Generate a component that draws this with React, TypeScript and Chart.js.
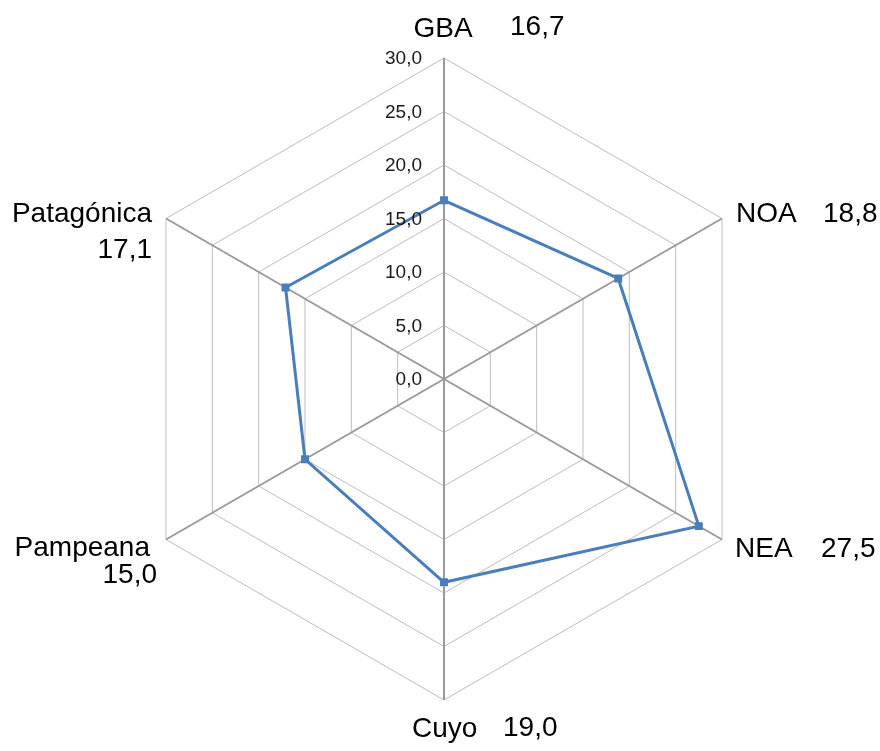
import React, { useEffect, useRef } from "react";
import { Chart, registerables } from "chart.js";

Chart.register(...registerables);

const categories = ["GBA", "NOA", "NEA", "Cuyo", "Pampeana", "Patagónica"];
const values = [16.7, 18.8, 27.5, 19.0, 15.0, 17.1];
const tickValues = [0, 5, 10, 15, 20, 25, 30];

// label offsets relative to each outer vertex: [nameDx, nameDy, nameAlign, valueDx, valueDy, valueAlign]
const labelLayout: [number, number, CanvasTextAlign, number, number, CanvasTextAlign][] = [
  [-1, -21, "center", 66, -23, "left"],
  [14, 3, "left", 101, 3, "left"],
  [13, 17, "left", 99, 17, "left"],
  [-32, 37, "left", 59, 36, "left"],
  [-16, 16, "right", -9, 43, "right"],
  [-14, 3, "right", -14, 39, "right"],
];

const fmt = (v: number) => v.toFixed(1).replace(".", ",");

const labelPlugin = {
  id: "customLabels",
  afterDraw(chart: any) {
    const scale = chart.scales.r;
    const ctx = chart.ctx;
    ctx.save();
    // tick labels
    ctx.font = "19px 'Liberation Sans', Arial, sans-serif";
    ctx.fillStyle = "#1a1a1a";
    ctx.textAlign = "right";
    ctx.textBaseline = "middle";
    tickValues.forEach((t) => {
      const d = scale.getDistanceFromCenterForValue(t);
      ctx.fillText(fmt(t), scale.xCenter - 22, scale.yCenter - d + 1);
    });
    // point labels + values
    ctx.font = "28px 'Liberation Sans', Arial, sans-serif";
    ctx.fillStyle = "#000";
    ctx.textBaseline = "alphabetic";
    categories.forEach((name, i) => {
      const p = scale.getPointPosition(i, scale.drawingArea);
      const [ndx, ndy, na, vdx, vdy, va] = labelLayout[i];
      ctx.textAlign = na;
      ctx.fillText(name, p.x + ndx, p.y + ndy);
      ctx.textAlign = va;
      ctx.fillText(fmt(values[i]), p.x + vdx, p.y + vdy);
    });
    ctx.restore();
  },
};

export default function App() {
  const ref = useRef<HTMLCanvasElement>(null);
  useEffect(() => {
    document.body.style.margin = "0";
    const chart = new Chart(ref.current!, {
      type: "radar",
      data: {
        labels: categories,
        datasets: [
          {
            data: values,
            borderColor: "#4A7EBB",
            backgroundColor: "#4A7EBB",
            borderWidth: 3,
            pointStyle: "rect",
            pointRadius: 3.5,
            pointBackgroundColor: "#4A7EBB",
            pointBorderColor: "#4A7EBB",
            fill: false,
            tension: 0,
          },
        ],
      },
      options: {
        animation: false,
        responsive: false,
        layout: { padding: { top: 58, bottom: 50, left: 100, right: 92 } },
        plugins: { legend: { display: false }, tooltip: { enabled: false } },
        scales: {
          r: {
            min: 0,
            max: 30,
            ticks: { stepSize: 5, display: false },
            pointLabels: { display: false },
            grid: { color: "#BDBDBD", lineWidth: 1, circular: false },
            angleLines: { color: "#9A9A9A", lineWidth: 2 },
          },
        },
      },
      plugins: [labelPlugin],
    });
    return () => chart.destroy();
  }, []);
  return (
    <div style={{ width: 880, height: 751 }}>
      <canvas ref={ref} width={880} height={751} style={{ display: "block" }} />
    </div>
  );
}
